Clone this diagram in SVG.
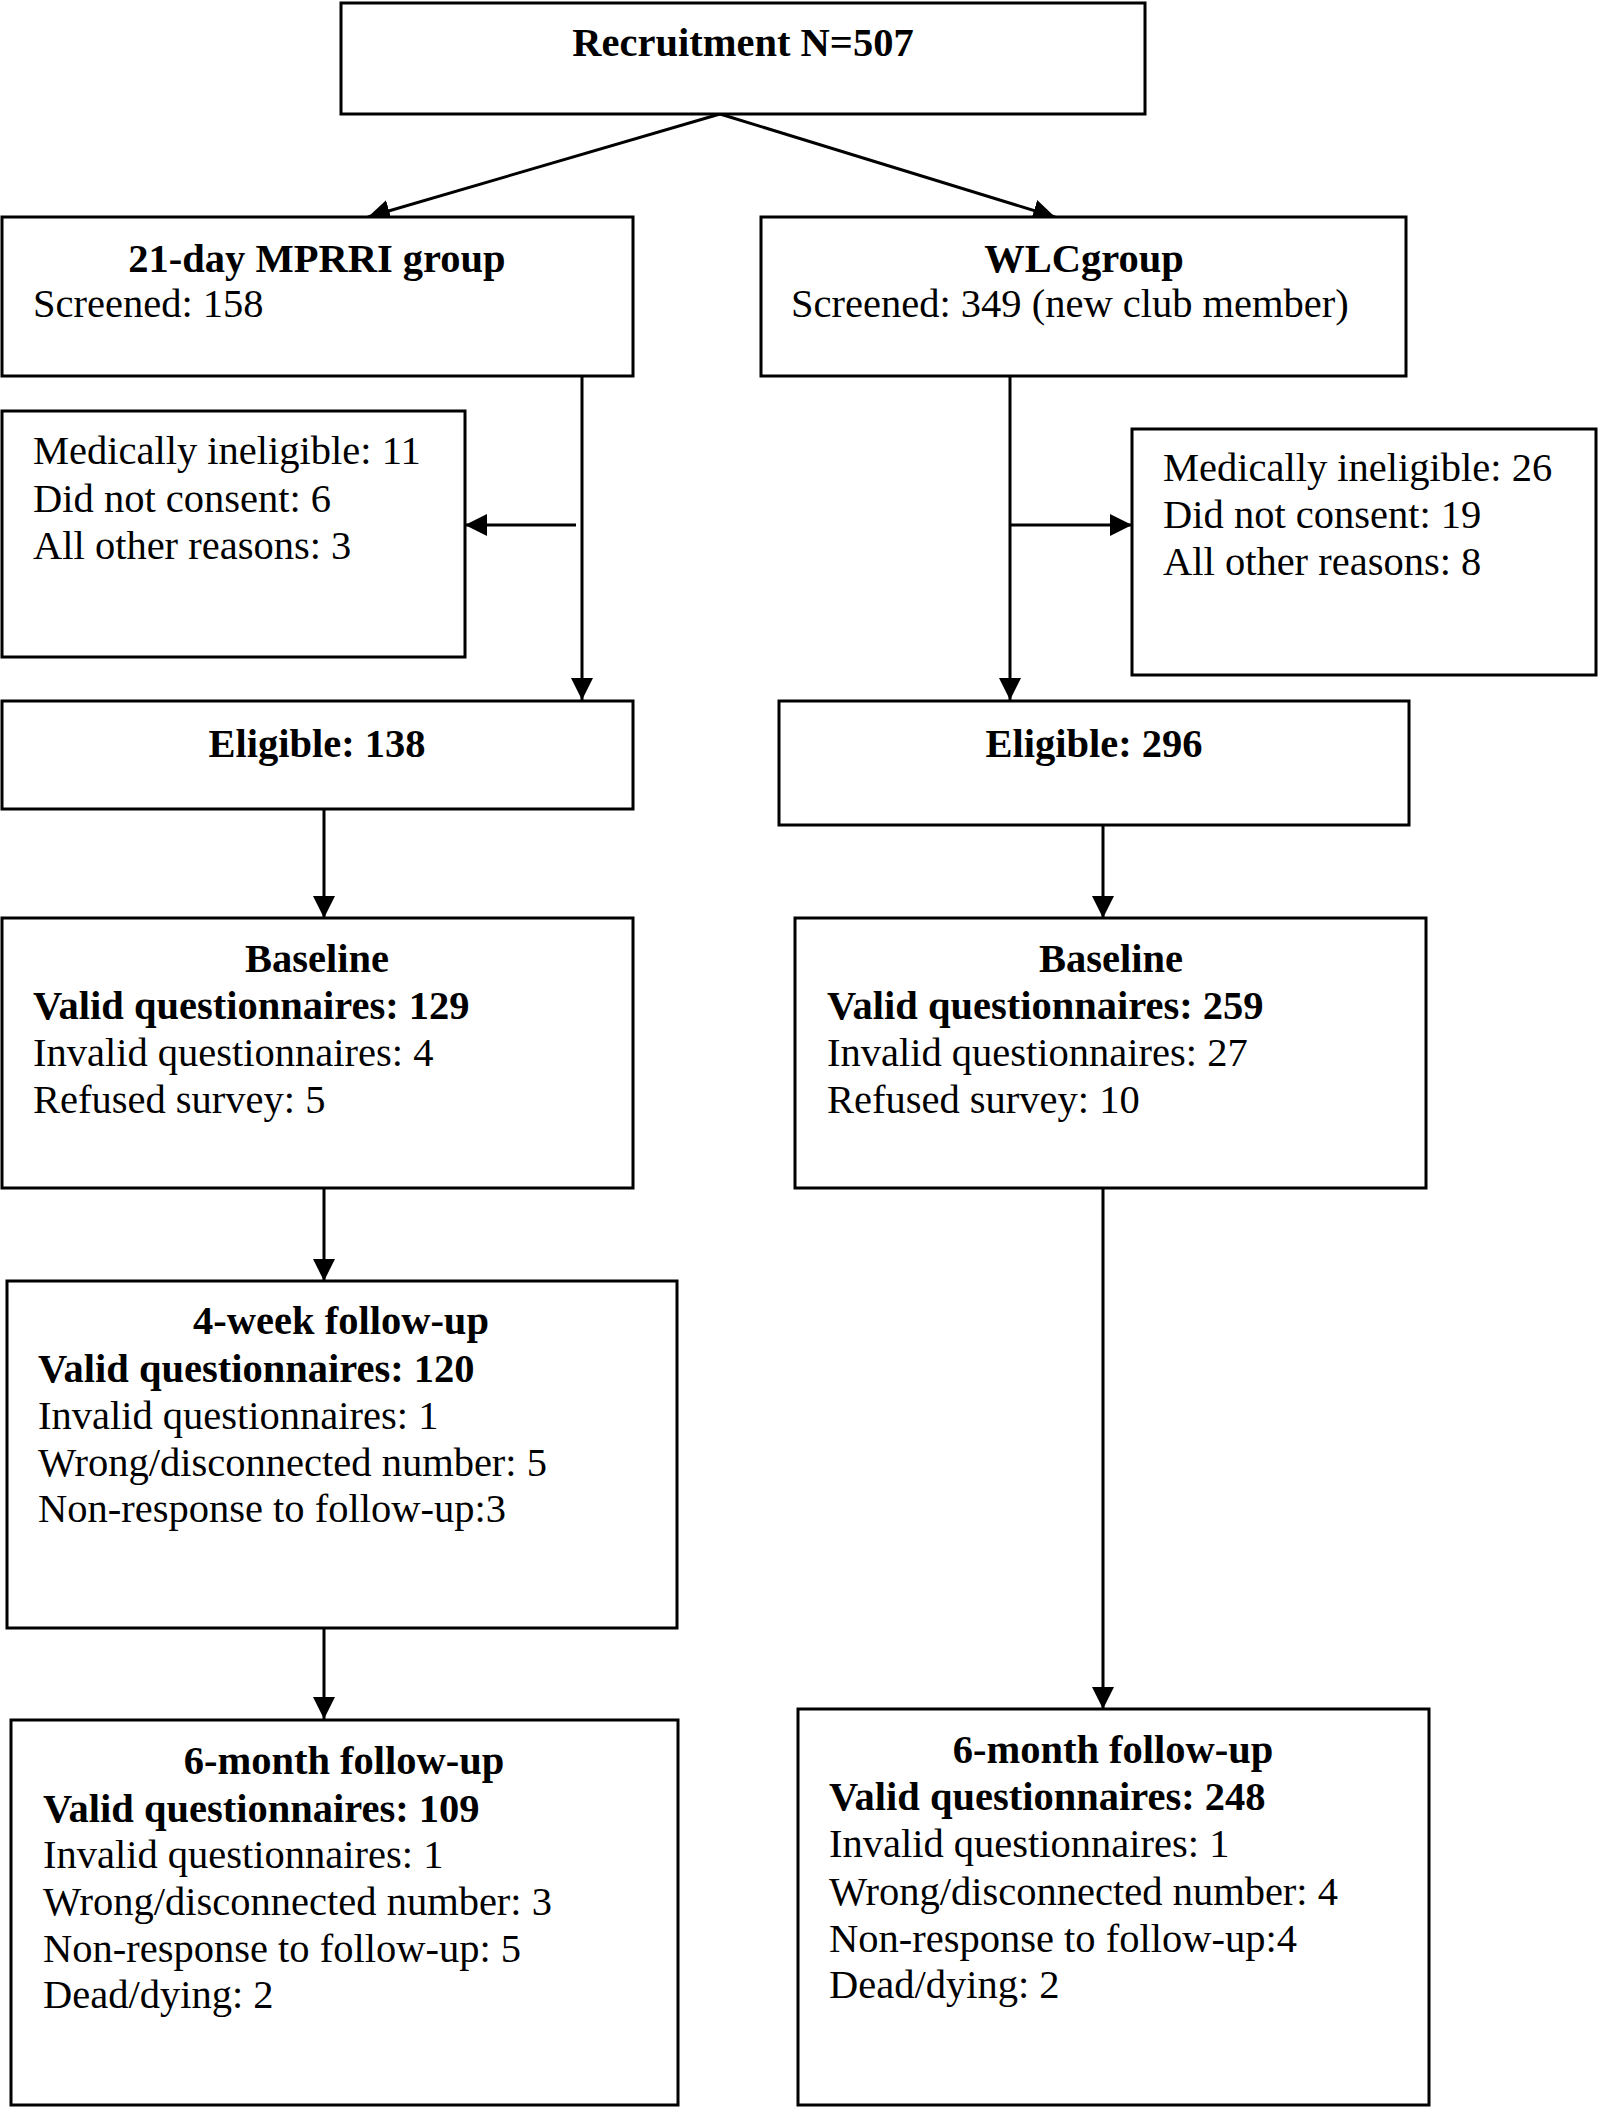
<svg xmlns="http://www.w3.org/2000/svg" width="1598" height="2107" viewBox="0 0 1598 2107">
<style>
.box{fill:#fff;stroke:#000;stroke-width:3}
.t{font-family:"Liberation Serif","Times New Roman",serif;font-size:40.5px;fill:#000}
.b{font-weight:bold}
.c{text-anchor:middle}
.ln{stroke:#000;stroke-width:3;fill:none}
</style>
<defs>
<marker id="ah" viewBox="0 0 22 22" refX="22" refY="11" markerWidth="22" markerHeight="22" markerUnits="userSpaceOnUse" orient="auto">
<path d="M0,0 L22,11 L0,22 z" fill="#000"/>
</marker>
</defs>
<rect width="1598" height="2107" fill="#fff"/>
<g id="connectors">
<line class="ln" x1="720" y1="114" x2="368" y2="217" marker-end="url(#ah)"/>
<line class="ln" x1="720" y1="114" x2="1055" y2="217" marker-end="url(#ah)"/>
<line class="ln" x1="582" y1="376" x2="582" y2="700" marker-end="url(#ah)"/>
<line class="ln" x1="576" y1="525" x2="465" y2="525" marker-end="url(#ah)"/>
<line class="ln" x1="1010" y1="376" x2="1010" y2="700" marker-end="url(#ah)"/>
<line class="ln" x1="1010" y1="525" x2="1132" y2="525" marker-end="url(#ah)"/>
<line class="ln" x1="324" y1="809" x2="324" y2="918" marker-end="url(#ah)"/>
<line class="ln" x1="1103" y1="825" x2="1103" y2="918" marker-end="url(#ah)"/>
<line class="ln" x1="324" y1="1188" x2="324" y2="1281" marker-end="url(#ah)"/>
<line class="ln" x1="324" y1="1628" x2="324" y2="1719" marker-end="url(#ah)"/>
<line class="ln" x1="1103" y1="1188" x2="1103" y2="1709" marker-end="url(#ah)"/>
</g>
<g id="recruitment">
<rect class="box" x="341" y="3" width="804" height="111"/>
<text class="t b c" x="743" y="56">Recruitment N=507</text>
</g>
<g id="mprri">
<rect class="box" x="2" y="217" width="631" height="159"/>
<text class="t b c" x="317" y="272">21-day MPRRI group</text>
<text class="t" x="33" y="317">Screened: 158</text>
</g>
<g id="wlc">
<rect class="box" x="761" y="217" width="645" height="159"/>
<text class="t b c" x="1084" y="272">WLCgroup</text>
<text class="t" x="791" y="317">Screened: 349 (new club member)</text>
</g>
<g id="excl-left">
<rect class="box" x="2" y="411" width="463" height="246"/>
<text class="t" x="33" y="464">Medically ineligible: 11</text>
<text class="t" x="33" y="512">Did not consent: 6</text>
<text class="t" x="33" y="559">All other reasons: 3</text>
</g>
<g id="excl-right">
<rect class="box" x="1132" y="429" width="464" height="246"/>
<text class="t" x="1163" y="481">Medically ineligible: 26</text>
<text class="t" x="1163" y="528">Did not consent: 19</text>
<text class="t" x="1163" y="575">All other reasons: 8</text>
</g>
<g id="eligible-left">
<rect class="box" x="2" y="701" width="631" height="108"/>
<text class="t b c" x="317" y="757">Eligible: 138</text>
</g>
<g id="eligible-right">
<rect class="box" x="779" y="701" width="630" height="124"/>
<text class="t b c" x="1094" y="757">Eligible: 296</text>
</g>
<g id="baseline-left">
<rect class="box" x="2" y="918" width="631" height="270"/>
<text class="t b c" x="317" y="972">Baseline</text>
<text class="t b" x="33" y="1019">Valid questionnaires: 129</text>
<text class="t" x="33" y="1066">Invalid questionnaires: 4</text>
<text class="t" x="33" y="1113">Refused survey: 5</text>
</g>
<g id="baseline-right">
<rect class="box" x="795" y="918" width="631" height="270"/>
<text class="t b c" x="1111" y="972">Baseline</text>
<text class="t b" x="827" y="1019">Valid questionnaires: 259</text>
<text class="t" x="827" y="1066">Invalid questionnaires: 27</text>
<text class="t" x="827" y="1113">Refused survey: 10</text>
</g>
<g id="fourweek-left">
<rect class="box" x="7" y="1281" width="670" height="347"/>
<text class="t b c" x="341" y="1334">4-week follow-up</text>
<text class="t b" x="38" y="1382">Valid questionnaires: 120</text>
<text class="t" x="38" y="1429">Invalid questionnaires: 1</text>
<text class="t" x="38" y="1476">Wrong/disconnected number: 5</text>
<text class="t" x="38" y="1522">Non-response to follow-up:3</text>
</g>
<g id="sixmonth-left">
<rect class="box" x="11" y="1720" width="667" height="385"/>
<text class="t b c" x="344" y="1774">6-month follow-up</text>
<text class="t b" x="43" y="1822">Valid questionnaires: 109</text>
<text class="t" x="43" y="1868">Invalid questionnaires: 1</text>
<text class="t" x="43" y="1915">Wrong/disconnected number: 3</text>
<text class="t" x="43" y="1962">Non-response to follow-up: 5</text>
<text class="t" x="43" y="2008">Dead/dying: 2</text>
</g>
<g id="sixmonth-right">
<rect class="box" x="798" y="1709" width="631" height="396"/>
<text class="t b c" x="1113" y="1763">6-month follow-up</text>
<text class="t b" x="829" y="1810">Valid questionnaires: 248</text>
<text class="t" x="829" y="1857">Invalid questionnaires: 1</text>
<text class="t" x="829" y="1905">Wrong/disconnected number: 4</text>
<text class="t" x="829" y="1952">Non-response to follow-up:4</text>
<text class="t" x="829" y="1998">Dead/dying: 2</text>
</g>
</svg>
